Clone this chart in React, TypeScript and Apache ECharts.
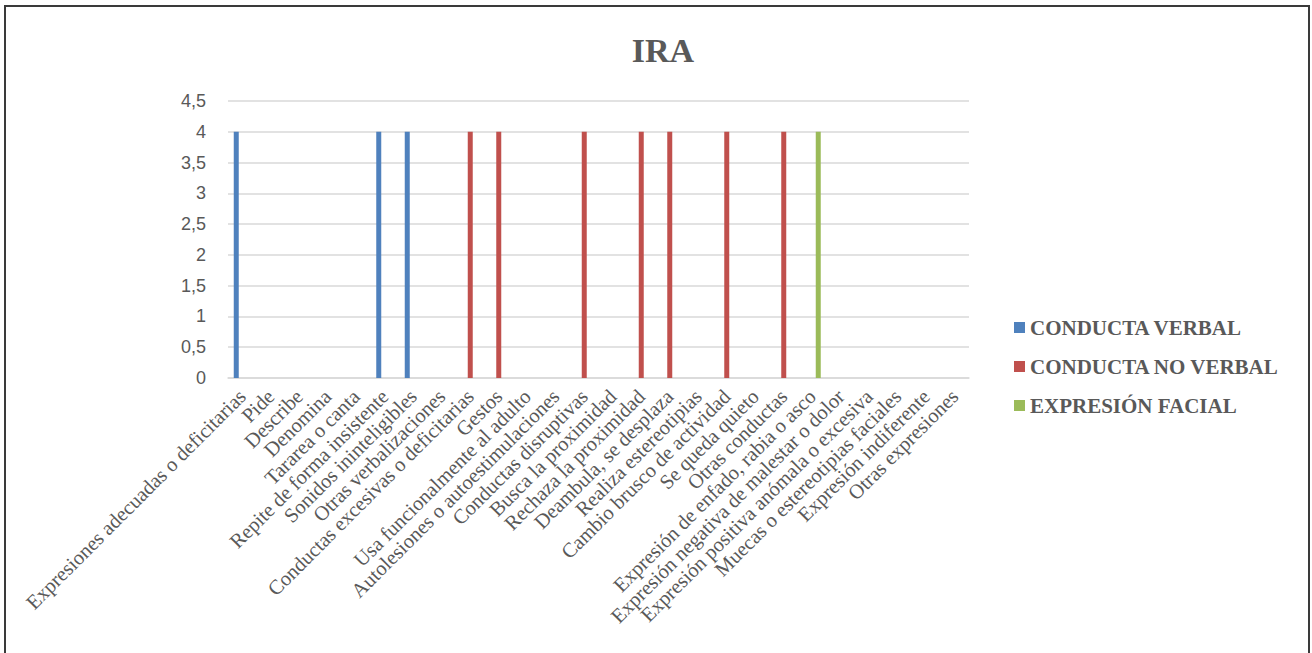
import React, { useEffect, useRef } from "react";
import * as echarts from "echarts";

// Behaviour categories shown along the horizontal axis
const categories: string[] = [
  "Expresiones adecuadas o deficitarias",
  "Pide",
  "Describe",
  "Denomina",
  "Tararea o canta",
  "Repite de forma insistente",
  "Sonidos ininteligibles",
  "Otras verbalizaciones",
  "Conductas excesivas o deficitarias",
  "Gestos",
  "Usa funcionalmente al adulto",
  "Autolesiones o autoestimulaciones",
  "Conductas disruptivas",
  "Busca la proximidad",
  "Rechaza la proximidad",
  "Deambula, se desplaza",
  "Realiza estereotipias",
  "Cambio brusco de actividad",
  "Se queda quieto",
  "Otras conductas",
  "Expresión de enfado, rabia o asco",
  "Expresión negativa de malestar o dolor",
  "Expresión positiva anómala o excesiva",
  "Muecas o estereotipias faciales",
  "Expresión indiferente",
  "Otras expresiones",
];

const seriesNames: string[] = ["CONDUCTA VERBAL", "CONDUCTA NO VERBAL", "EXPRESIÓN FACIAL"];

const conductaVerbal: number[] = [4, 0, 0, 0, 0, 4, 4, 0, 0, 0, 0, 0, 0, 0, 0, 0, 0, 0, 0, 0, 0, 0, 0, 0, 0, 0];
const conductaNoVerbal: number[] = [0, 0, 0, 0, 0, 0, 0, 0, 4, 4, 0, 0, 4, 0, 4, 4, 0, 4, 0, 4, 0, 0, 0, 0, 0, 0];
const expresionFacial: number[] = [0, 0, 0, 0, 0, 0, 0, 0, 0, 0, 0, 0, 0, 0, 0, 0, 0, 0, 0, 0, 4, 0, 0, 0, 0, 0];

const yMin = 0;
const yMax = 4.5;
const yStep = 0.5;

const colors = ["#4f81bd", "#c0504d", "#9bbb59"];
const textGray = "#595959";
const gridGray = "#d9d9d9";

export default function App() {
  const ref = useRef<HTMLDivElement>(null);

  useEffect(() => {
    if (!ref.current) return;
    const chart = echarts.init(ref.current, undefined, { renderer: "svg" });
    const values = [conductaVerbal, conductaNoVerbal, expresionFacial];

    chart.setOption({
      animation: false,
      backgroundColor: "#ffffff",
      color: colors,
      title: {
        text: "IRA",
        left: 658,
        textAlign: "center",
        top: 28,
        textStyle: {
          fontFamily: "Liberation Serif",
          fontWeight: "bold",
          fontSize: 34,
          color: textGray,
        },
      },
      legend: {
        orient: "vertical",
        left: 1009,
        top: 312,
        itemWidth: 11,
        itemHeight: 11,
        itemGap: 18,
        icon: "rect",
        data: seriesNames,
        textStyle: {
          fontFamily: "Liberation Serif",
          fontWeight: "bold",
          fontSize: 21,
          color: textGray,
        },
      },
      graphic: [
        {
          type: "rect",
          shape: { x: 5, y: 6, width: 1304, height: 700 },
          style: { fill: "none", stroke: "#3a3a3a", lineWidth: 2 },
          silent: true,
        },
      ],
      grid: {
        left: 228,
        right: 343,
        top: 101,
        bottom: 275,
        containLabel: false,
      },
      xAxis: {
        type: "category",
        data: categories,
        axisTick: { show: false },
        axisLine: { lineStyle: { color: gridGray, width: 1.5 } },
        axisLabel: {
          interval: 0,
          rotate: 45,
          margin: 15,
          fontFamily: "Liberation Serif",
          fontSize: 20.5,
          color: textGray,
        },
      },
      yAxis: {
        type: "value",
        min: yMin,
        max: yMax,
        interval: yStep,
        axisLine: { show: false },
        axisTick: { show: false },
        splitLine: { lineStyle: { color: gridGray, width: 1.5 } },
        axisLabel: {
          margin: 22,
          fontFamily: "Liberation Sans",
          fontSize: 18,
          color: textGray,
          formatter: (v: number) => String(v).replace(".", ","),
        },
      },
      series: seriesNames.map((name, i) => ({
        name,
        type: "bar",
        data: values[i],
        barWidth: 5,
        barGap: "20%",
        itemStyle: { color: colors[i] },
      })),
    });

    return () => chart.dispose();
  }, []);

  return (
    <div
      ref={ref}
      style={{ position: "absolute", left: 0, top: 0, width: 1312, height: 653 }}
    />
  );
}
